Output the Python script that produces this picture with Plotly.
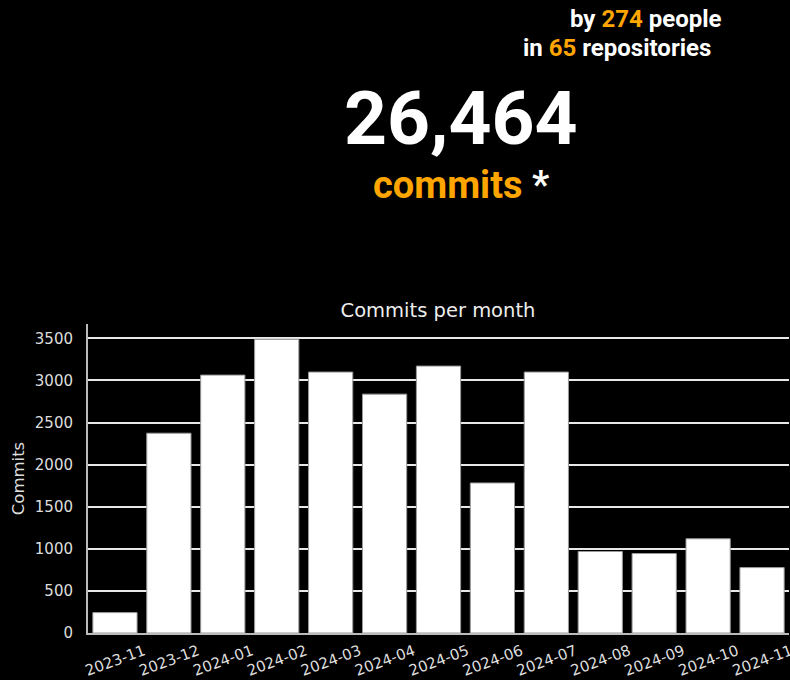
import plotly.graph_objects as go

months = ["2023-11", "2023-12", "2024-01", "2024-02", "2024-03", "2024-04", "2024-05",
          "2024-06", "2024-07", "2024-08", "2024-09", "2024-10", "2024-11"]
commits = [242, 2373, 3063, 3488, 3099, 2837, 3170, 1782, 3099, 968, 944, 1119, 777]

total_commits = "26,464"
people = "274"
repos = "65"

ORANGE = "#FFA500"

fig = go.Figure()
fig.add_trace(go.Bar(
    x=months, y=commits,
    marker=dict(color="white", line=dict(color="#999999", width=1)),
))

W, H = 790, 680
plot_l, plot_r = 88, W - 1
plot_t, plot_b = 324, H - 47

def ax(x):
    return (x - plot_l) / (plot_r - plot_l)
def ay(y):
    return (plot_b - y) / (plot_b - plot_t)

annos = [
    dict(text=f"<b>by <span style='color:{ORANGE}'>{people}</span> people</b>",
         x=ax(646), y=ay(19), font=dict(size=24, color="white", family="Roboto")),
    dict(text=f"<b>in <span style='color:{ORANGE}'>{repos}</span> repositories</b>",
         x=ax(617), y=ay(48), font=dict(size=24, color="white", family="Roboto")),
    dict(text=f"<b>{total_commits}</b>",
         x=ax(461), y=ay(118), font=dict(size=75, color="white", family="Roboto")),
    dict(text=f"<b><span style='color:{ORANGE}'>commits</span> *</b>",
         x=ax(462), y=ay(185), font=dict(size=38, color="white", family="Roboto")),
]
for a in annos:
    a.update(xref="paper", yref="paper", showarrow=False, xanchor="center", yanchor="middle")

fig.update_layout(
    width=W, height=H,
    paper_bgcolor="black", plot_bgcolor="black",
    margin=dict(l=plot_l, r=W - plot_r, t=plot_t, b=H - plot_b, autoexpand=False),
    showlegend=False,
    bargap=0.18,
    title=dict(text="Commits per month", x=438 / W, xanchor="center",
               y=1 - 310 / H, yanchor="middle", yref="container", xref="container",
               font=dict(family="DejaVu Sans", size=19.5, color="#eeeeee")),
    font=dict(family="DejaVu Sans", color="#dddddd", size=15),
    xaxis=dict(type="category", showgrid=False, showline=True, linecolor="#bbbbbb", linewidth=2,
               tickangle=-20, tickfont=dict(size=15, color="#dddddd"), ticks="",
               ticklabelshift=29, ticklabelstandoff=2, automargin=False),
    yaxis=dict(range=[0, 3670], showgrid=True, gridcolor="#e8e8e8", gridwidth=1.5,
               tickvals=[0, 500, 1000, 1500, 2000, 2500, 3000, 3500],
               showline=True, linecolor="#bbbbbb", linewidth=2,
               ticks="outside", ticklen=10, tickcolor="black",
               tickfont=dict(size=15, color="#dddddd"), automargin=False,
               title=dict(text="Commits", font=dict(size=16.5, color="#dddddd"), standoff=6),
               zeroline=False),
    annotations=annos,
)

fig.write_html("out.html", config={"displayModeBar": False},
               post_script="document.body.style.margin='0';document.body.style.background='black';")
